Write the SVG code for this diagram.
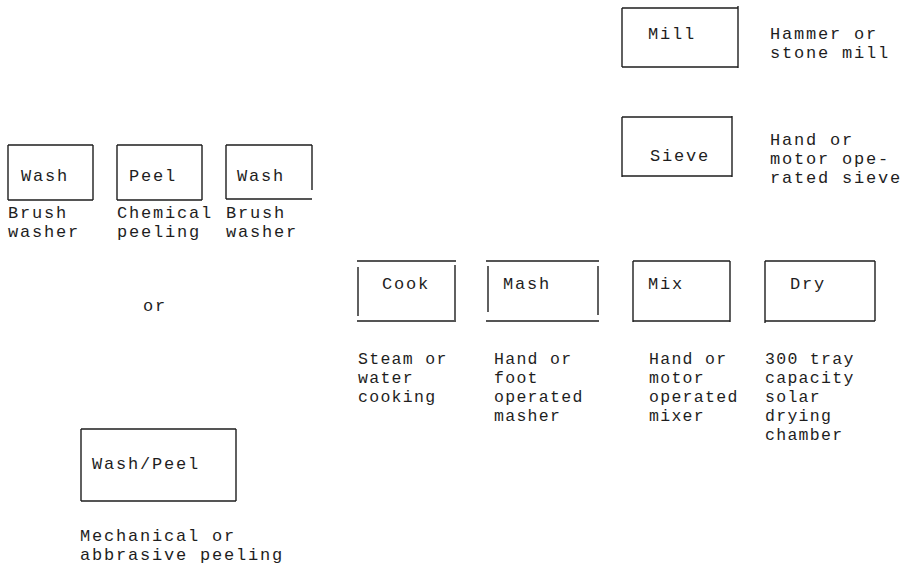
<svg xmlns="http://www.w3.org/2000/svg" width="911" height="575" viewBox="0 0 911 575">
<style>
.bx{fill:none;stroke:#1e1e1e;stroke-width:1.4}
.t{font-family:"Liberation Mono","Courier New",monospace;font-size:17px;letter-spacing:1.8px;fill:#1e1e1e}
.c{font-family:"Liberation Mono","Courier New",monospace;font-size:16.5px;letter-spacing:1.3px;fill:#1e1e1e}
</style>
<rect width="911" height="575" fill="#fff"/>
<g id="connectors"/>
<g id="mill">
<path class="bx" d="M622,8H738M622,8V67M738,6V68M622,67H738"/>
<text class="t" x="648" y="39">Mill</text>
<text class="t" x="770" y="39">Hammer or</text>
<text class="t" x="770" y="58">stone mill</text>
</g>
<g id="sieve">
<path class="bx" d="M622,117H732M622,117V177M732,116V177M622,176H732"/>
<text class="t" x="650" y="161">Sieve</text>
<text class="t" x="770" y="145">Hand or</text>
<text class="t" x="770" y="164">motor ope-</text>
<text class="t" x="770" y="183">rated sieve</text>
</g>
<g id="wash1">
<path class="bx" d="M8,145H93M8,145V200M93,145V200M8,200H93"/>
<text class="t" x="21" y="181">Wash</text>
<text class="t" x="8" y="218">Brush</text>
<text class="t" x="8" y="237">washer</text>
</g>
<g id="peel">
<path class="bx" d="M117,145H202M117,145V200M202,145V200M117,200H202"/>
<text class="t" x="129" y="181">Peel</text>
<text class="t" x="117" y="218">Chemical</text>
<text class="t" x="117" y="237">peeling</text>
</g>
<g id="wash2">
<path class="bx" d="M226,145H312M226,145V199M312,145V190M226,199H312"/>
<text class="t" x="237" y="181">Wash</text>
<text class="t" x="226" y="218">Brush</text>
<text class="t" x="226" y="237">washer</text>
</g>
<text class="t" x="143" y="311">or</text>
<g id="washpeel">
<path class="bx" d="M81,429H236M81,429V501M236,429V501M81,501H236"/>
<text class="t" x="92" y="469">Wash/Peel</text>
<text class="t" x="80" y="541">Mechanical or</text>
<text class="t" x="80" y="560">abbrasive peeling</text>
</g>
<g id="cook">
<path class="bx" d="M357,261H456M358,267V316M455,265V320M357,321H456"/>
<text class="t" x="382" y="289">Cook</text>
<text class="c" x="358" y="364">Steam or</text>
<text class="c" x="358" y="383">water</text>
<text class="c" x="358" y="402">cooking</text>
</g>
<g id="mash">
<path class="bx" d="M486,261H599M488,266V312M598,266V315M486,321H599"/>
<text class="t" x="503" y="289">Mash</text>
<text class="c" x="494" y="364">Hand or</text>
<text class="c" x="494" y="383">foot</text>
<text class="c" x="494" y="402">operated</text>
<text class="c" x="494" y="421">masher</text>
</g>
<g id="mix">
<path class="bx" d="M633,261H730M633,261V322M730,261V322M633,321H730"/>
<text class="t" x="648" y="289">Mix</text>
<text class="c" x="649" y="364">Hand or</text>
<text class="c" x="649" y="383">motor</text>
<text class="c" x="649" y="402">operated</text>
<text class="c" x="649" y="421">mixer</text>
</g>
<g id="dry">
<path class="bx" d="M765,261H875M765,261V323M875,261V321M765,321H875"/>
<text class="t" x="790" y="289">Dry</text>
<text class="c" x="765" y="364">300 tray</text>
<text class="c" x="765" y="383">capacity</text>
<text class="c" x="765" y="402">solar</text>
<text class="c" x="765" y="421">drying</text>
<text class="c" x="765" y="440">chamber</text>
</g>
</svg>
